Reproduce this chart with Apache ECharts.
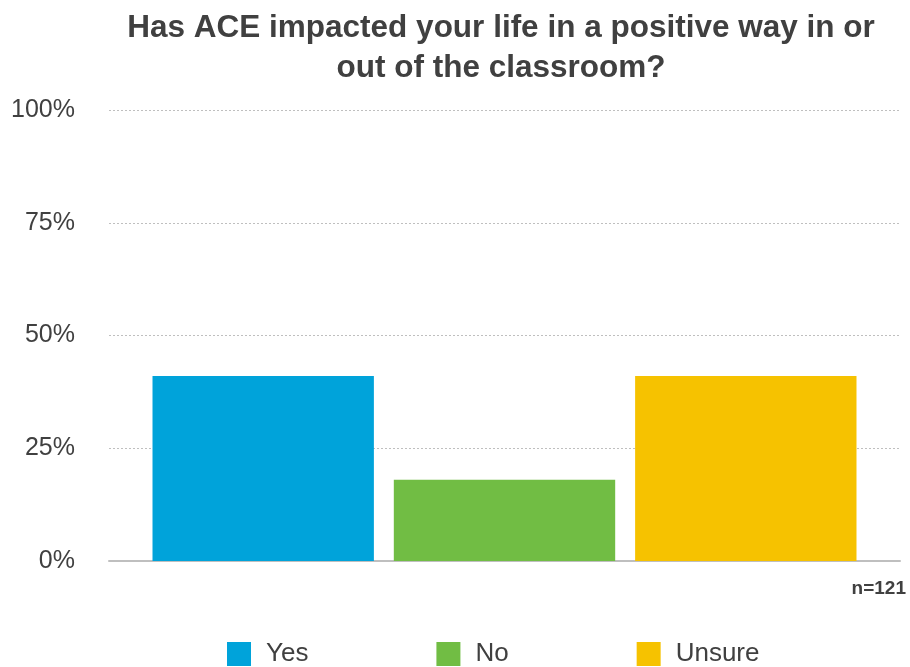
<!DOCTYPE html>
<html><head><meta charset="utf-8">
<script src="https://cdn.jsdelivr.net/npm/echarts@6/dist/echarts.min.js"></script>
<style>html,body{margin:0;padding:0;background:#fff}#c{width:910px;height:667px}</style>
</head><body><div id="c"></div>
<script>
const categories = [''];
const seriesNames = ['Yes', 'No', 'Unsure'];
const seriesValues = [[41], [18], [41]];
const seriesColors = ['#00A3DA', '#71BD44', '#F6C200'];
const yTicks = ['0%', '25%', '50%', '75%', '100%'];
const titleText = 'Has ACE impacted your life in a positive way in or\nout of the classroom?';
const noteText = 'n=121';

const chart = echarts.init(document.getElementById('c'));
chart.setOption({
  animation: false,
  title: {
    text: titleText,
    left: 496, top: 3, textAlign: 'center',
    textStyle: { fontFamily: '"Liberation Sans", Arial', fontWeight: 'bold', fontSize: 31.5, lineHeight: 40, color: '#404040' }
  },
  graphic: [{
    type: 'text', right: 4, top: 579,
    style: { text: noteText, font: 'bold 19px "Liberation Sans", Arial', fill: '#404040' }
  }],
  legend: {
    bottom: -5, left: 222, itemWidth: 24, itemHeight: 24, itemGap: 128, icon: 'rect',
    data: seriesNames,
    textStyle: { fontFamily: '"Liberation Sans", Arial', fontSize: 26, color: '#404040', padding: [0, 0, 0, 10] }
  },
  grid: { left: 109, right: 10, top: 110, bottom: 106, containLabel: false },
  xAxis: {
    type: 'category', data: categories,
    axisLine: { lineStyle: { color: '#BFBFBF', width: 2 } },
    axisTick: { show: false }, axisLabel: { show: false }
  },
  yAxis: {
    type: 'value', min: 0, max: 100, interval: 25,
    axisLabel: { formatter: (v) => yTicks[v / 25], fontFamily: '"Liberation Sans", Arial', fontSize: 25, color: '#404040', margin: 34 },
    splitLine: { lineStyle: { color: '#BFBFBF', type: [2, 2], width: 1 } },
    axisLine: { show: false }, axisTick: { show: false }
  },
  series: seriesNames.map((n, i) => ({
    name: n, type: 'bar', data: seriesValues[i],
    itemStyle: { color: seriesColors[i] },
    barCategoryGap: '11%', barGap: '9%'
  }))
});
</script></body></html>
